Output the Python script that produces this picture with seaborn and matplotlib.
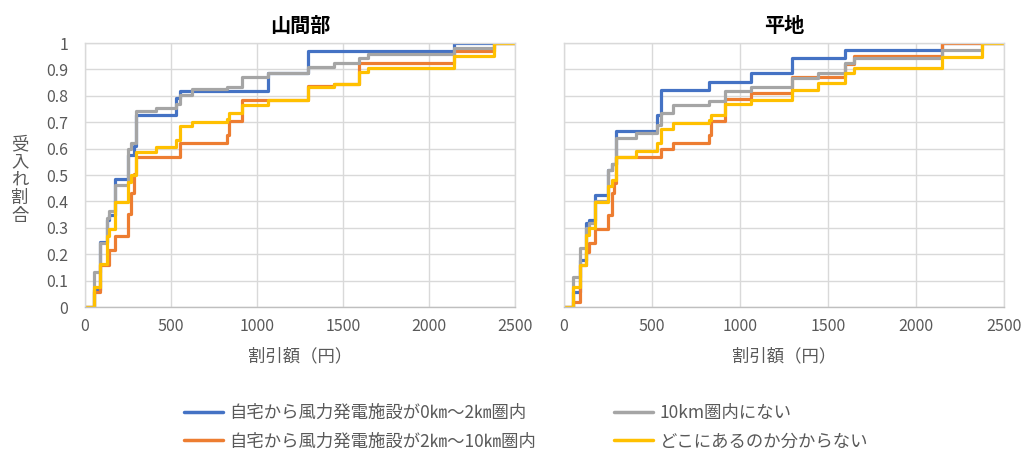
import matplotlib
matplotlib.use("Agg")
import matplotlib.pyplot as plt
import pandas as pd
import seaborn as sns
from matplotlib.lines import Line2D

# Discount amounts (yen) where the cumulative acceptance ratio changes
bids = [0, 50, 90, 125, 140, 175, 250, 270, 285, 295, 410, 530, 550, 620,
        825, 835, 915, 1065, 1295, 1445, 1595, 1645, 2145, 2375, 2500]

# 山間部 (mountain areas)
mountain_0_2km = [0, 0.063, 0.245, 0.33, 0.35, 0.484, 0.575, 0.575, 0.61, 0.728, 0.728,
                  0.79, 0.82, 0.82, 0.82, 0.82, 0.82, 0.885, 0.971, 0.971, 0.971, 0.971,
                  1.0, 1.0, 1.0]
mountain_2_10km = [0, 0.057, 0.16, 0.16, 0.215, 0.27, 0.354, 0.43, 0.505, 0.568, 0.568,
                   0.568, 0.622, 0.622, 0.65, 0.705, 0.785, 0.785, 0.836, 0.845, 0.923,
                   0.923, 0.97, 1.0, 1.0]
mountain_none = [0, 0.134, 0.241, 0.336, 0.365, 0.462, 0.60, 0.62, 0.62, 0.742, 0.752,
                 0.77, 0.803, 0.824, 0.835, 0.835, 0.87, 0.885, 0.908, 0.923, 0.942,
                 0.958, 0.98, 1.0, 1.0]
mountain_unknown = [0, 0.076, 0.164, 0.27, 0.297, 0.398, 0.473, 0.50, 0.50, 0.587, 0.605,
                    0.633, 0.686, 0.702, 0.714, 0.736, 0.765, 0.784, 0.834, 0.845, 0.891,
                    0.906, 0.952, 1.0, 1.0]

# 平地 (flatland)
flat_0_2km = [0, 0.055, 0.178, 0.317, 0.33, 0.424, 0.519, 0.54, 0.54, 0.668, 0.668,
              0.727, 0.822, 0.822, 0.854, 0.854, 0.854, 0.885, 0.944, 0.944, 0.973,
              0.973, 1.0, 1.0, 1.0]
flat_2_10km = [0, 0.02, 0.16, 0.21, 0.241, 0.294, 0.348, 0.43, 0.468, 0.567, 0.567,
               0.567, 0.597, 0.622, 0.652, 0.706, 0.787, 0.812, 0.87, 0.87, 0.92,
               0.951, 1.0, 1.0, 1.0]
flat_none = [0, 0.115, 0.222, 0.298, 0.317, 0.40, 0.519, 0.54, 0.54, 0.639, 0.66,
             0.69, 0.736, 0.765, 0.78, 0.78, 0.819, 0.832, 0.866, 0.887, 0.923,
             0.942, 0.973, 1.0, 1.0]
flat_unknown = [0, 0.077, 0.159, 0.273, 0.298, 0.396, 0.458, 0.481, 0.481, 0.567, 0.592,
                0.62, 0.674, 0.696, 0.708, 0.727, 0.769, 0.784, 0.822, 0.847, 0.887,
                0.904, 0.946, 1.0, 1.0]

groups = ["自宅から風力発電施設が0㎞～2㎞圏内",
          "自宅から風力発電施設が2㎞～10㎞圏内",
          "10km圏内にない",
          "どこにあるのか分からない"]
colors = ["#4472C4", "#ED7D31", "#A5A5A5", "#FFC000"]
panel_titles = ["山間部", "平地"]
x_ticks = [0, 500, 1000, 1500, 2000, 2500]
y_ticks = [0, 0.1, 0.2, 0.3, 0.4, 0.5, 0.6, 0.7, 0.8, 0.9, 1]
y_tick_labels = ["0", "0.1", "0.2", "0.3", "0.4", "0.5", "0.6", "0.7", "0.8", "0.9", "1"]

panels = {
    "山間部": [mountain_0_2km, mountain_2_10km, mountain_none, mountain_unknown],
    "平地": [flat_0_2km, flat_2_10km, flat_none, flat_unknown],
}

sns.set_theme(style="white")
plt.rcParams["font.family"] = ["Noto Sans CJK JP", "DejaVu Sans"]

text_color = "#595959"
grid_color = "#D9D9D9"

fig = plt.figure(figsize=(10.27, 4.54), dpi=100)
W, H = 1027, 454
ax_boxes = [(85, 43, 515, 307), (564, 43, 1004, 307)]

for i, title in enumerate(panel_titles):
    x0, y0, x1, y1 = ax_boxes[i]
    ax = fig.add_axes([x0 / W, 1 - y1 / H, (x1 - x0) / W, (y1 - y0) / H])
    rows = []
    for g, vals in zip(groups, panels[title]):
        for b, v in zip(bids, vals):
            rows.append({"割引額": b, "受入れ割合": v, "区分": g})
    df = pd.DataFrame(rows)
    sns.lineplot(data=df, x="割引額", y="受入れ割合", hue="区分", hue_order=groups,
                 palette=colors, drawstyle="steps-post", linewidth=2.3,
                 estimator=None, sort=False, legend=False, ax=ax)
    ax.set_xlim(0, 2500)
    ax.set_ylim(0, 1)
    ax.set_xticks(x_ticks)
    ax.set_yticks(y_ticks)
    ax.grid(True, color=grid_color, linewidth=1.0)
    ax.set_axisbelow(True)
    for s in ax.spines.values():
        s.set_color(grid_color)
        s.set_linewidth(1.0)
    ax.spines["bottom"].set_color("#BFBFBF")
    ax.tick_params(axis="both", length=0, colors=text_color, labelsize=11.5)
    ax.tick_params(axis="y", pad=12)
    ax.tick_params(axis="x", pad=8)
    if i == 0:
        ax.set_yticklabels(y_tick_labels)
    else:
        ax.set_yticklabels([])
    ax.set_xlabel("割引額（円）", fontsize=12.5, color=text_color, labelpad=9)
    ax.set_ylabel("")
    ax.set_title(title, fontsize=14.5, fontweight="bold", color="#000000", pad=8)

# Vertical stacked y-axis label
fig.text(20 / W, 1 - 180 / H, "\n".join("受入れ割合"), ha="center", va="center",
         fontsize=12.5, color=text_color, linespacing=1.0)

handles = [Line2D([0], [0], color=c, linewidth=2.5) for c in colors]
fig.legend(handles, groups, loc="center", bbox_to_anchor=(526 / W, 1 - 427 / H),
           ncol=2, frameon=False, fontsize=12.5, handlelength=2.25, handletextpad=0.4,
           columnspacing=4.45, labelspacing=0.62, labelcolor=text_color)

fig.savefig("out.png", dpi=100)
